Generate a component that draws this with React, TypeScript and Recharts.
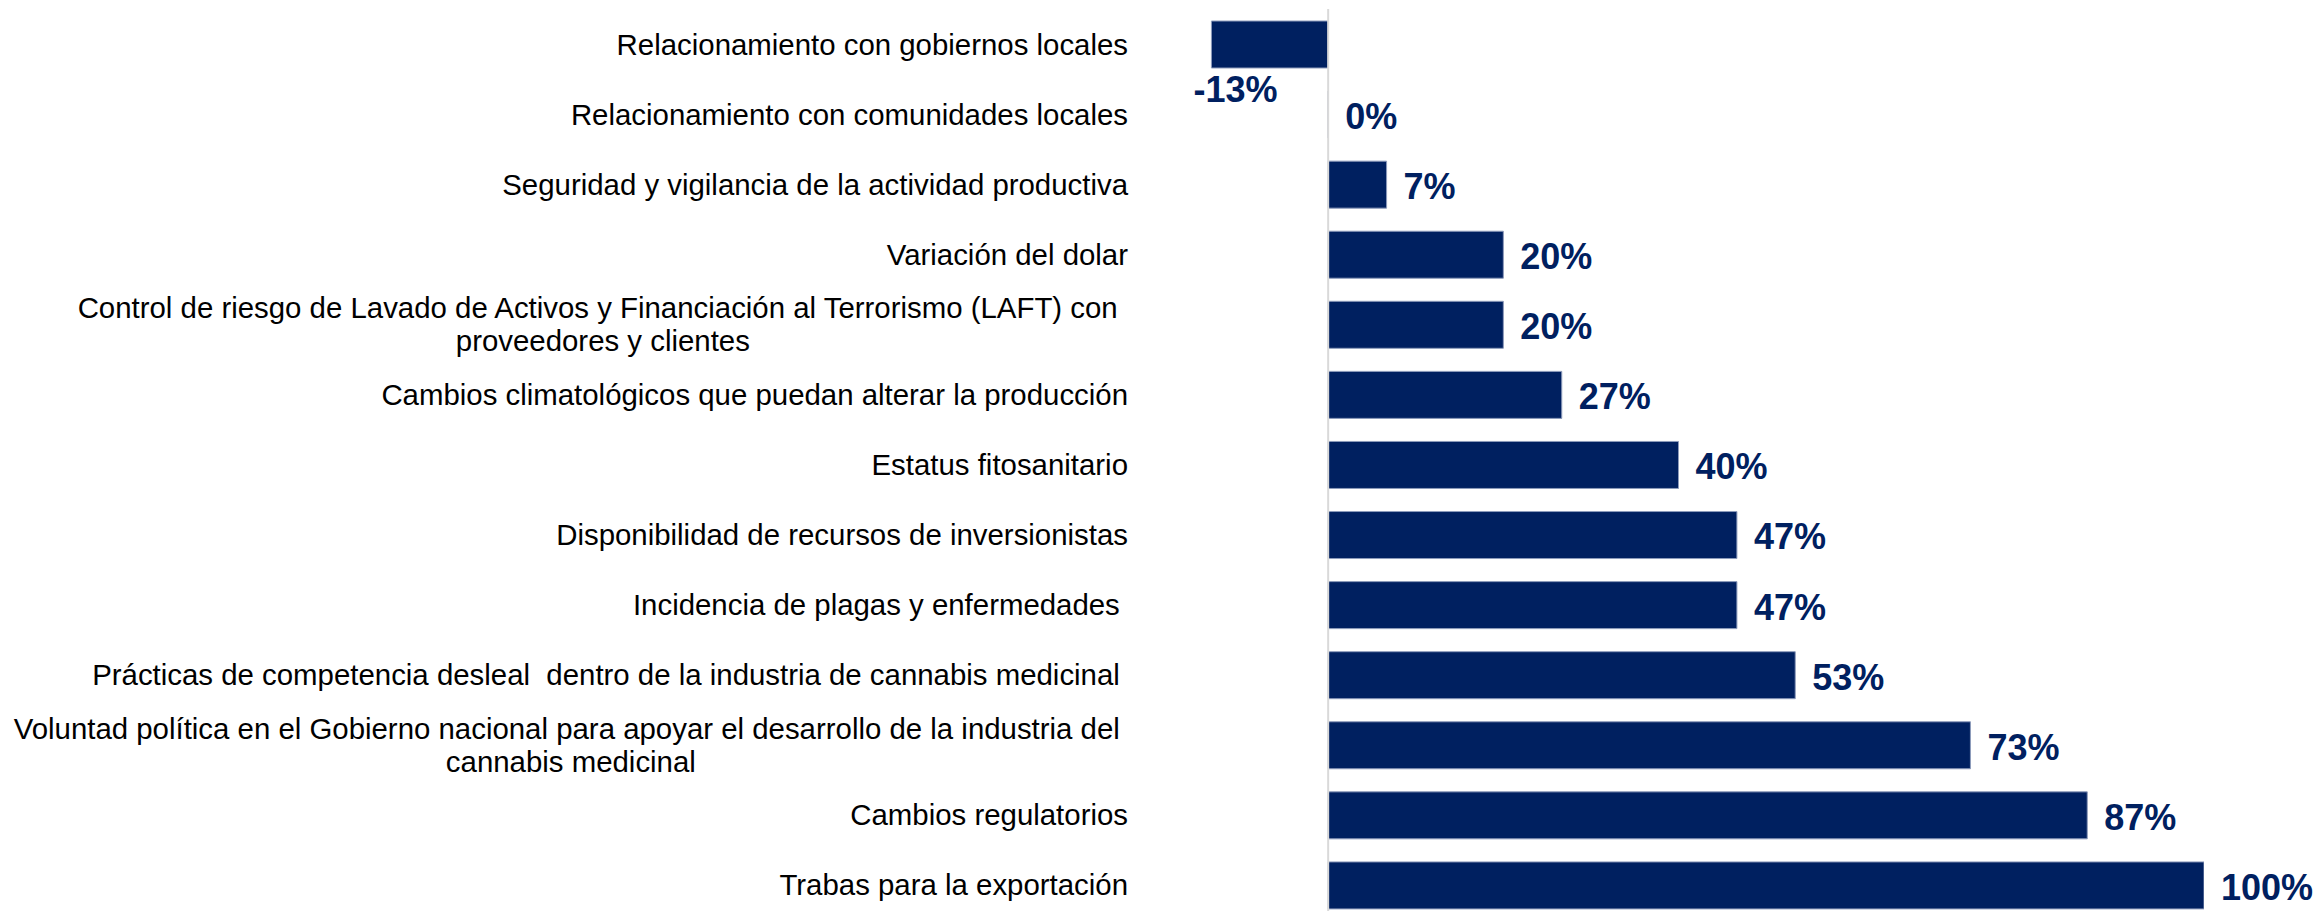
import React from 'react';
import { BarChart, Bar, XAxis, YAxis, LabelList, ReferenceLine } from 'recharts';

// Categories (top to bottom); "\n" marks a line break in the label
const categories: string[] = [
  'Relacionamiento con gobiernos locales',
  'Relacionamiento con comunidades locales',
  'Seguridad y vigilancia de la actividad productiva',
  'Variación del dolar',
  'Control de riesgo de Lavado de Activos y Financiación al Terrorismo (LAFT) con \nproveedores y clientes',
  'Cambios climatológicos que puedan alterar la producción',
  'Estatus fitosanitario',
  'Disponibilidad de recursos de inversionistas',
  'Incidencia de plagas y enfermedades ',
  'Prácticas de competencia desleal  dentro de la industria de cannabis medicinal ',
  'Voluntad política en el Gobierno nacional para apoyar el desarrollo de la industria del \ncannabis medicinal',
  'Cambios regulatorios',
  'Trabas para la exportación',
];

// Percentages (net balance)
const values: number[] = [
  -13.33, 0, 6.67, 20, 20, 26.67, 40, 46.67, 46.67, 53.33, 73.33, 86.67, 100,
];

const xDomain: [number, number] = [-20, 100];

const data = categories.map((name, i) => ({ name, value: values[i] }));

const FONT = "'Liberation Sans', Arial, sans-serif";
const CAT_FS = 29.4;
const LINE_H = 33;
const VAL_FS = 36;
const NAVY = '#002060';

let ctx: CanvasRenderingContext2D | null = null;
function textWidth(s: string, font: string): number {
  if (!ctx) {
    const c = document.createElement('canvas');
    ctx = c.getContext('2d');
  }
  if (!ctx) return s.length * 14;
  ctx.font = font;
  return ctx.measureText(s).width;
}

const CategoryTick = (props: any) => {
  const { x, y, payload } = props;
  const lines = String(payload.value).split('\n');
  const font = `${CAT_FS}px ${FONT}`;
  const widths = lines.map((l) => textWidth(l, font));
  const block = Math.max(...widths);
  const n = lines.length;
  return (
    <g>
      {lines.map((l, i) => (
        <text
          key={i}
          x={x - block + (block - widths[i]) / 2}
          y={y + (i - (n - 1) / 2) * LINE_H + 0.358 * CAT_FS}
          textAnchor="start"
          fontFamily={FONT}
          fontSize={CAT_FS}
          fill="#000000"
          style={{ whiteSpace: 'pre' }}
        >
          {l}
        </text>
      ))}
    </g>
  );
};

const ValueLabel = (props: any) => {
  const { x, y, width, height, value } = props;
  const v = Array.isArray(value) ? value[1] - value[0] : Number(value);
  const w = Number(width) || 0;
  const end = Number(x) + w;
  const txt = `${Math.round(v)}%`;
  if (v < 0) {
    return (
      <text
        x={end - 18}
        y={y + height + 21 + 0.358 * VAL_FS}
        textAnchor="start"
        fontFamily={FONT}
        fontWeight="bold"
        fontSize={VAL_FS}
        fill={NAVY}
      >
        {txt}
      </text>
    );
  }
  return (
    <text
      x={end + 17}
      y={y + height / 2 + 1.5 + 0.358 * VAL_FS}
      textAnchor="start"
      fontFamily={FONT}
      fontWeight="bold"
      fontSize={VAL_FS}
      fill={NAVY}
    >
      {txt}
    </text>
  );
};

export default function App() {
  return (
    <div style={{ position: 'absolute', left: 0, top: 0, width: 2321, height: 911, overflow: 'hidden', background: '#fff' }}>
      <BarChart
        width={2321}
        height={925}
        data={data}
        layout="vertical"
        margin={{ top: 9, right: 117, bottom: 5, left: 0 }}
      >
        <XAxis type="number" domain={xDomain} hide allowDataOverflow />
        <YAxis
          type="category"
          dataKey="name"
          width={1153}
          interval={0}
          axisLine={false}
          tickLine={false}
          tickSize={0}
          tickMargin={25}
          tick={<CategoryTick />}
        />
        <Bar
          dataKey="value"
          fill={NAVY}
          stroke="#8d9bbb"
          strokeWidth={1}
          barSize={47}
          minPointSize={(v: number) => (v === 0 ? 0.01 : 0)}
          isAnimationActive={false}
        >
          <LabelList dataKey="value" content={<ValueLabel />} />
        </Bar>
        <ReferenceLine x={0} stroke="#d9d9d9" strokeWidth={2} />
      </BarChart>
    </div>
  );
}
